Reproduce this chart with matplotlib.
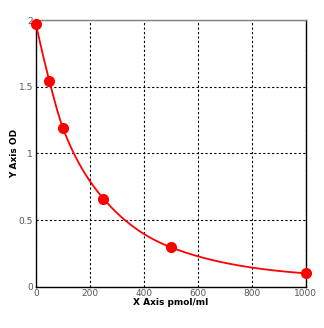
import numpy as np
import matplotlib
matplotlib.use("Agg")
import matplotlib.pyplot as plt

# Standard concentrations and measured optical density
conc = [0, 50, 100, 250, 500, 1000]
od = [1.97, 1.54, 1.19, 0.66, 0.295, 0.10]

x_ticks = [0, 200, 400, 600, 800, 1000]
x_tick_labels = ["0", "200", "400", "600", "800", "1000"]
y_ticks = [0, 0.5, 1, 1.5, 2]
y_tick_labels = ["0", "0.5", "1", "1.5", "2"]


def pchip(xk, yk, xs):
    """Monotone piecewise cubic Hermite interpolation."""
    xk = np.asarray(xk, float)
    yk = np.asarray(yk, float)
    h = np.diff(xk)
    d = np.diff(yk) / h
    n = len(xk)
    m = np.zeros(n)
    for i in range(1, n - 1):
        if d[i - 1] * d[i] > 0:
            w1 = 2 * h[i] + h[i - 1]
            w2 = h[i] + 2 * h[i - 1]
            m[i] = (w1 + w2) / (w1 / d[i - 1] + w2 / d[i])
    m[0] = ((2 * h[0] + h[1]) * d[0] - h[0] * d[1]) / (h[0] + h[1])
    if np.sign(m[0]) != np.sign(d[0]):
        m[0] = 0
    m[-1] = ((2 * h[-1] + h[-2]) * d[-1] - h[-1] * d[-2]) / (h[-1] + h[-2])
    if np.sign(m[-1]) != np.sign(d[-1]):
        m[-1] = 0
    idx = np.clip(np.searchsorted(xk, xs) - 1, 0, n - 2)
    t = (xs - xk[idx]) / h[idx]
    h00 = 2 * t**3 - 3 * t**2 + 1
    h10 = t**3 - 2 * t**2 + t
    h01 = -2 * t**3 + 3 * t**2
    h11 = t**3 - t**2
    return (h00 * yk[idx] + h10 * h[idx] * m[idx]
            + h01 * yk[idx + 1] + h11 * h[idx] * m[idx + 1])


fig = plt.figure(figsize=(3.24, 3.28), dpi=100)
ax = fig.add_axes([0.111, 0.126, 0.833, 0.813])

# Smooth standard curve: interpolate in log(OD) so the decay stays smooth
xs = np.linspace(conc[0], conc[-1], 400)
curve = np.exp(pchip(conc, np.log(od), xs))
ax.plot(xs, curve, color="#ff0000", lw=1.3, zorder=3)
ax.plot(conc, od, "o", color="#ff0000", ms=7, zorder=4, clip_on=False)

ax.set_xlim(0, 1000)
ax.set_ylim(0, 2)
ax.set_xticks(x_ticks)
ax.set_xticklabels(x_tick_labels)
ax.set_yticks(y_ticks)
ax.set_yticklabels(y_tick_labels)
ax.tick_params(length=0, labelsize=6.5, colors="#555555", pad=2)
ax.grid(True, color="black", linestyle=(0, (2, 2)), linewidth=0.8)

for side in ("left", "bottom", "right"):
    ax.spines[side].set_color("black")
    ax.spines[side].set_linewidth(1.0)
ax.spines["top"].set_color("#808080")
ax.spines["top"].set_linewidth(1.0)

ax.set_xlabel("X Axis pmol/ml", fontsize=6.5, fontweight="bold")
ax.set_ylabel("Y Axis OD", fontsize=6.5, fontweight="bold")
ax.xaxis.set_label_coords(0.5, -0.043)
ax.yaxis.set_label_coords(-0.063, 0.5)

fig.savefig("out.png", dpi=100)
